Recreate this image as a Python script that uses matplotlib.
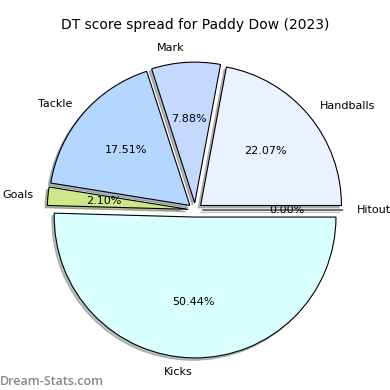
import matplotlib
matplotlib.use("Agg")
import matplotlib.pyplot as plt

labels = ["Handballs", "Mark", "Tackle", "Goals", "Kicks", "Hitout"]
values = [22.07, 7.88, 17.51, 2.10, 50.44, 0.00]
colors = ["#eaf1ff", "#c5d9ff", "#b5d6ff", "#cde88a", "#d9ffff", "#ffd9d9"]
explode = [0.05] * len(values)

fig = plt.figure(figsize=(3.9, 3.9), dpi=100)
ax = fig.add_axes([0.049, 0.01, 0.903, 0.903])
ax.pie(values, labels=labels, colors=colors, explode=explode,
       shadow={"ox": -0.012, "oy": -0.012, "shade": 0.5},
       autopct="%1.2f%%", startangle=0, counterclock=True,
       wedgeprops=dict(edgecolor="black", linewidth=0.8),
       textprops=dict(fontsize=8))
ax.set_aspect("equal")
fig.text(0.5, 0.935, "DT score spread for Paddy Dow (2023)", ha="center", va="center", fontsize=10)
fig.text(0.0, 0.023, "Dream-Stats.com", ha="left", va="center", fontsize=9,
         color="#888888", family="Open Sans", weight="semibold")
fig.savefig("out.png", dpi=100)
